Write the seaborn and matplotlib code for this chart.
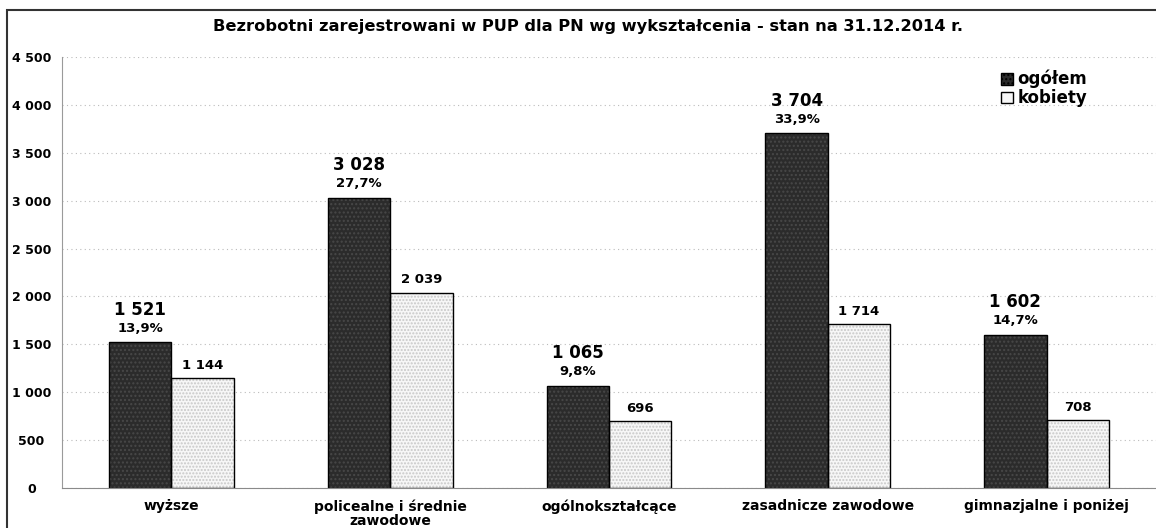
import numpy as np
import pandas as pd
import matplotlib
matplotlib.use("Agg")
import matplotlib.pyplot as plt
import seaborn as sns
from matplotlib.patches import Rectangle
from matplotlib.ticker import FuncFormatter, MultipleLocator

# data
categories = ["wyższe", "policealne i średnie\nzawodowe", "ogólnokształcące",
              "zasadnicze zawodowe", "gimnazjalne i poniżej"]
ogolem = [1521, 3028, 1065, 3704, 1602]
kobiety = [1144, 2039, 696, 1714, 708]
ogolem_pct = [13.9, 27.7, 9.8, 33.9, 14.7]
series_names = ["ogółem", "kobiety"]

df = pd.DataFrame({
    "kat": categories * 2,
    "seria": [series_names[0]] * 5 + [series_names[1]] * 5,
    "liczba": ogolem + kobiety,
})

sns.set_style("white")
plt.rcParams["font.family"] = ["DejaVu Sans"]
plt.rcParams["font.weight"] = "bold"
plt.rcParams["text.color"] = "black"
plt.rcParams["xtick.color"] = "black"
plt.rcParams["ytick.color"] = "black"

def spaced(v):
    return f"{int(v):,}".replace(",", " ")

fig = plt.figure(figsize=(11.56, 5.28), dpi=100)
ax = fig.add_axes([62 / 1156, 1 - 488 / 528, 1 - 62 / 1156, (488 - 57) / 528])

sns.barplot(data=df, x="kat", y="liczba", hue="seria", order=categories,
            hue_order=series_names, palette=["#2b2b2b", "#f7f7f7"],
            width=0.57, gap=0, edgecolor="black", linewidth=1.0,
            saturation=1, ax=ax, legend=False)

# stippled texture on the bars
for i, cont in enumerate(ax.containers):
    for p in cont:
        p.set_hatch("....." if i == 1 else "....")
        p.set_edgecolor("#c8c8c8" if i == 1 else "#484848")
        p.set_linewidth(0)
        ax.add_patch(Rectangle(p.get_xy(), p.get_width(), p.get_height(),
                               fill=False, edgecolor="black", lw=1.0, zorder=p.get_zorder() + 0.1))

# value labels
for p, v, pct in zip(ax.containers[0], ogolem, ogolem_pct):
    x = p.get_x() + p.get_width() / 2
    ax.annotate(spaced(v), (x, v), xytext=(0, 17), textcoords="offset points",
                ha="center", va="bottom", fontsize=12, fontweight="bold")
    ax.annotate(f"{pct:.1f}%".replace(".", ","), (x, v), xytext=(0, 5.5),
                textcoords="offset points", ha="center", va="bottom",
                fontsize=9.5, fontweight="bold")
for p, v in zip(ax.containers[1], kobiety):
    x = p.get_x() + p.get_width() / 2
    ax.annotate(spaced(v), (x, v), xytext=(0, 4.5), textcoords="offset points",
                ha="center", va="bottom", fontsize=9.5, fontweight="bold")

ax.set_ylim(0, 4500)
ax.set_xlim(-0.5, len(categories) - 0.5)
ax.yaxis.set_major_locator(MultipleLocator(500))
ax.yaxis.set_major_formatter(FuncFormatter(lambda v, _: spaced(v)))
ax.tick_params(axis="y", length=0, pad=22, labelsize=9)
ax.tick_params(axis="x", length=0, pad=8, labelsize=10)
for lab in ax.get_yticklabels():
    lab.set_horizontalalignment("center")
    lab.set_fontweight("bold")
for lab in ax.get_xticklabels():
    lab.set_fontweight("bold")
    lab.set_linespacing(1.0)
ax.set_xlabel("")
ax.set_ylabel("")

ax.grid(axis="y", color="#bbbbbb", linestyle=(0, (1, 3)), linewidth=0.8)
ax.set_axisbelow(True)
for s in ["top", "right"]:
    ax.spines[s].set_visible(False)
ax.spines["left"].set_color("#9a9a9a")
ax.spines["left"].set_linestyle((0, (2, 1)))
ax.spines["bottom"].set_color("#8a8a8a")

# legend
handles = [Rectangle((0, 0), 1, 1, facecolor="#2b2b2b", edgecolor="black", hatch="...."),
           Rectangle((0, 0), 1, 1, facecolor="#f7f7f7", edgecolor="black")]
fig.legend(handles, series_names, loc="upper left", bbox_to_anchor=(986 / 1156, 1 - 55 / 528),
           frameon=False, handlelength=0.7, handleheight=0.7,
           handletextpad=0.3, labelspacing=0.05, prop={"weight": "bold", "size": 12})

fig.text(588 / 1156, 1 - 27 / 528,
         "Bezrobotni zarejestrowani w PUP dla PN wg wykształcenia - stan na 31.12.2014 r.",
         ha="center", va="center", fontsize=11.7, fontweight="bold")

# outer frame
fig.patches.append(Rectangle((7 / 1156, -0.02), 1.2, 1 - 10 / 528 + 0.02,
                             transform=fig.transFigure, fill=False,
                             edgecolor="#333333", lw=1.5))

fig.savefig("out.png", dpi=100)
